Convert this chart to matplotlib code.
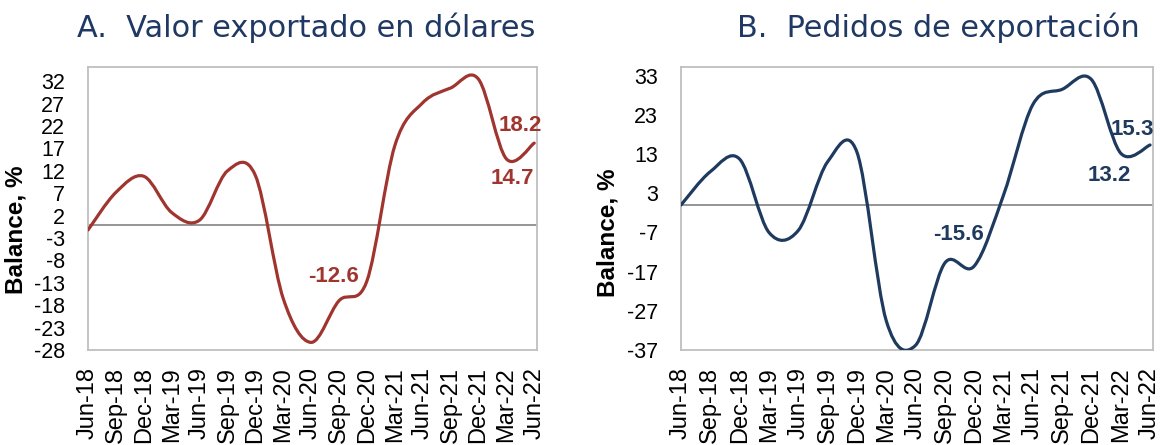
import matplotlib
matplotlib.use("Agg")
import matplotlib.pyplot as plt
import numpy as np
from matplotlib.path import Path
from matplotlib.patches import PathPatch

plt.rcParams['font.family'] = ['Liberation Sans', 'DejaVu Sans']

# ---- data ----
dates = ["Jun-18", "Sep-18", "Dec-18", "Mar-19", "Jun-19", "Sep-19", "Dec-19", "Mar-20",
         "Jun-20", "Sep-20", "Dec-20", "Mar-21", "Jun-21", "Sep-21", "Dec-21", "Mar-22", "Jun-22"]
valor_exportado = [-1.2, 7.2, 10.8, 2.7, 1.0, 12.0, 11.0, -16.5, -26.3, -17.0, -12.6,
                   17.6, 27.2, 30.5, 32.5, 14.7, 18.2]
pedidos_export = [0.0, 8.5, 11.7, -7.0, -6.5, 11.0, 13.5, -29.5, -35.8, -14.8, -15.6,
                  2.5, 25.6, 29.5, 32.0, 13.2, 15.3]
ticks_a = list(range(-28, 33, 5))
ticks_b = list(range(-37, 34, 10))

RED = "#A0352F"
BLUE = "#1F3A5F"
NAVY = "#1F3864"


def smooth_path(x, y):
    """Catmull-Rom style Bezier path through the given data points."""
    x = np.asarray(x, float)
    y = np.asarray(y, float)
    pts = np.column_stack([x, y])
    n = len(pts)
    verts = [pts[0]]
    codes = [Path.MOVETO]
    for i in range(n - 1):
        p0 = pts[i - 1] if i > 0 else pts[i]
        p1 = pts[i]
        p2 = pts[i + 1]
        p3 = pts[i + 2] if i + 2 < n else pts[i + 1]
        c1 = p1 + (p2 - p0) / 6.0
        c2 = p2 - (p3 - p1) / 6.0
        verts += [c1, c2, p2]
        codes += [Path.CURVE4] * 3
    return Path(verts, codes)


fig = plt.figure(figsize=(11.61, 4.45), dpi=100)

axA = fig.add_axes([88 / 1161, 1 - 350 / 445, (537 - 88) / 1161, (350 - 67) / 445])
axB = fig.add_axes([681 / 1161, 1 - 350 / 445, (1153 - 681) / 1161, (350 - 67) / 445])


def setup(ax, vals, color, yticks, ylim, labels):
    xs = np.arange(len(vals))
    ax.add_patch(PathPatch(smooth_path(xs, vals), facecolor='none', edgecolor=color,
                           lw=2.3, capstyle='round', joinstyle='round', zorder=3))
    ax.axhline(0, color="#8C8C8C", lw=1.3, zorder=2)
    ax.set_xlim(0, len(vals) - 1 + 0.1)
    ax.set_ylim(*ylim)
    ax.set_yticks(yticks)
    ax.set_yticklabels([str(t) for t in yticks], fontsize=15.5)
    ax.set_xticks(xs)
    ax.set_xticklabels(dates, rotation=90, fontsize=17)
    ax.tick_params(axis='y', length=0, pad=16.5)
    ax.tick_params(axis='x', length=0, pad=12.5)
    for s in ax.spines.values():
        s.set_color("#BFBFBF")
        s.set_linewidth(1.3)
    ax.set_ylabel("Balance, %", fontsize=17.5, fontweight='bold')
    for (lx, ly, txt) in labels:
        ax.text(lx, ly, txt, color=color, fontsize=16, fontweight='bold',
                ha='center', va='center', zorder=4)


setup(axA, valor_exportado, RED, ticks_a, (-28, 35.2),
      [(15.5, 22.2, "18.2"), (15.2, 10.2, "14.7"), (8.8, -11.6, "-12.6")])
setup(axB, pedidos_export, BLUE, ticks_b, (-37, 35.2),
      [(15.4, 19.3, "15.3"), (14.6, 7.6, "13.2"), (9.46, -7.6, "-15.6")])

# label right edge at x=28 (A) and x=619 (B); centred around y ~230
axA.yaxis.set_label_coords((28 - 88) / 449, (350 - 230) / 283)
axB.yaxis.set_label_coords((619 - 681) / 472, (350 - 233) / 283)

fig.text(77 / 1161, 1 - 37 / 445, "A.  Valor exportado en dólares", fontsize=21.9,
         color=NAVY, ha='left', va='baseline', family='DejaVu Sans')
fig.text(737 / 1161, 1 - 37 / 445, "B.  Pedidos de exportación", fontsize=21.8,
         color=NAVY, ha='left', va='baseline', family='DejaVu Sans')

fig.savefig("out.png", dpi=100)
